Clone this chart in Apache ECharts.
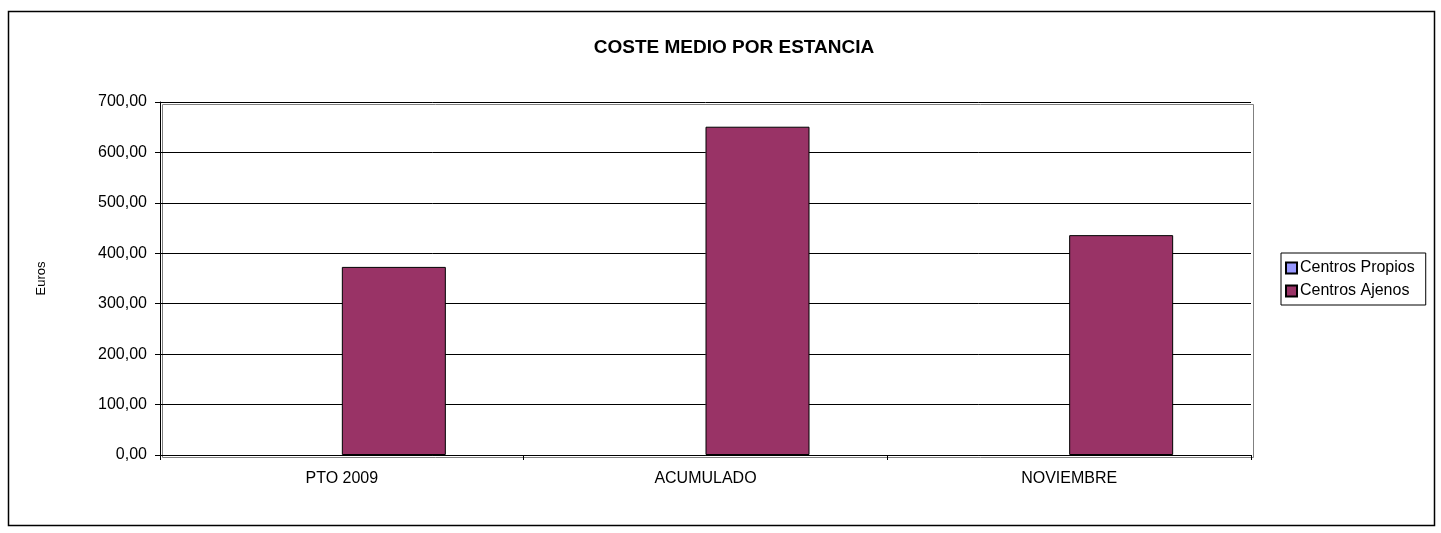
<!DOCTYPE html>
<html>
<head>
<meta charset="utf-8">
<script src="https://cdn.jsdelivr.net/npm/echarts@6/dist/echarts.min.js"></script>
<style>
html,body{margin:0;padding:0;background:#fff;}
#chart{width:1441px;height:533px;}
</style>
</head>
<body>
<div id="chart"></div>
<script>
const categories = ['PTO 2009', 'ACUMULADO', 'NOVIEMBRE'];
const seriesNames = ['Centros Propios', 'Centros Ajenos'];
const centrosPropios = [null, null, null];
const centrosAjenos = [373, 651, 436];
const yTicks = [0, 100, 200, 300, 400, 500, 600, 700];

const chart = echarts.init(document.getElementById('chart'), null, {renderer: 'canvas'});
const font = 'Arial, "Liberation Sans", sans-serif';
chart.setOption({
  animation: false,
  backgroundColor: '#fff',
  title: {
    text: 'COSTE MEDIO POR ESTANCIA',
    left: 729, top: 33, textAlign: 'center',
    textStyle: {fontFamily: font, fontSize: 19, fontWeight: 'bold', color: '#000'}
  },
  graphic: [{
    type: 'rect', left: 6, top: 9, z: -1,
    shape: {x: 0.5, y: 0.5, width: 1426, height: 514},
    style: {fill: 'none', stroke: '#000', lineWidth: 1.5}
  }, {
    type: 'rect', left: 160, top: 102, z: 0,
    shape: {width: 1091, height: 353},
    style: {fill: 'none', stroke: '#808080', lineWidth: 1}
  }],
  legend: {
    data: seriesNames,
    orient: 'vertical',
    left: 1281, top: 253,
    padding: [7, 11, 6, 4],
    itemGap: 7,
    itemWidth: 11, itemHeight: 11,
    icon: 'rect',
    borderColor: '#000', borderWidth: 1,
    textStyle: {fontFamily: font, fontSize: 16, color: '#000', padding: [0, 0, 0, -2]}
  },
  grid: {left: 160, right: 190, top: 102, bottom: 78, containLabel: false},
  xAxis: {
    type: 'category',
    data: categories,
    axisLine: {lineStyle: {color: '#000', width: 1}},
    axisTick: {show: true, length: 5, inside: false, lineStyle: {color: '#000'}},
    axisLabel: {fontFamily: font, fontSize: 16, color: '#000', margin: 16},
    splitLine: {show: false}
  },
  yAxis: {
    type: 'value',
    min: 0, max: 700, interval: 100,
    name: 'Euros',
    nameLocation: 'middle',
    nameGap: 112,
    nameRotate: 90,
    nameTextStyle: {fontFamily: font, fontSize: 13, color: '#000'},
    axisLine: {show: true, lineStyle: {color: '#000', width: 1}},
    axisTick: {show: true, length: 5, lineStyle: {color: '#000'}},
    axisLabel: {
      fontFamily: font, fontSize: 16, color: '#000', margin: 13,
      formatter: v => yTicks.includes(v) ? v.toFixed(2).replace('.', ',') : ''
    },
    splitLine: {show: true, lineStyle: {color: '#000', width: 1}}
  },
  series: [{
    name: seriesNames[0],
    type: 'bar',
    data: centrosPropios,
    barWidth: 104,
    barGap: '0%',
    itemStyle: {color: '#9999FF', borderColor: '#000', borderWidth: 1}
  }, {
    name: seriesNames[1],
    type: 'bar',
    data: centrosAjenos,
    barWidth: 104,
    barGap: '0%',
    itemStyle: {color: '#993366', borderColor: '#000', borderWidth: 1}
  }]
});
</script>
</body>
</html>
